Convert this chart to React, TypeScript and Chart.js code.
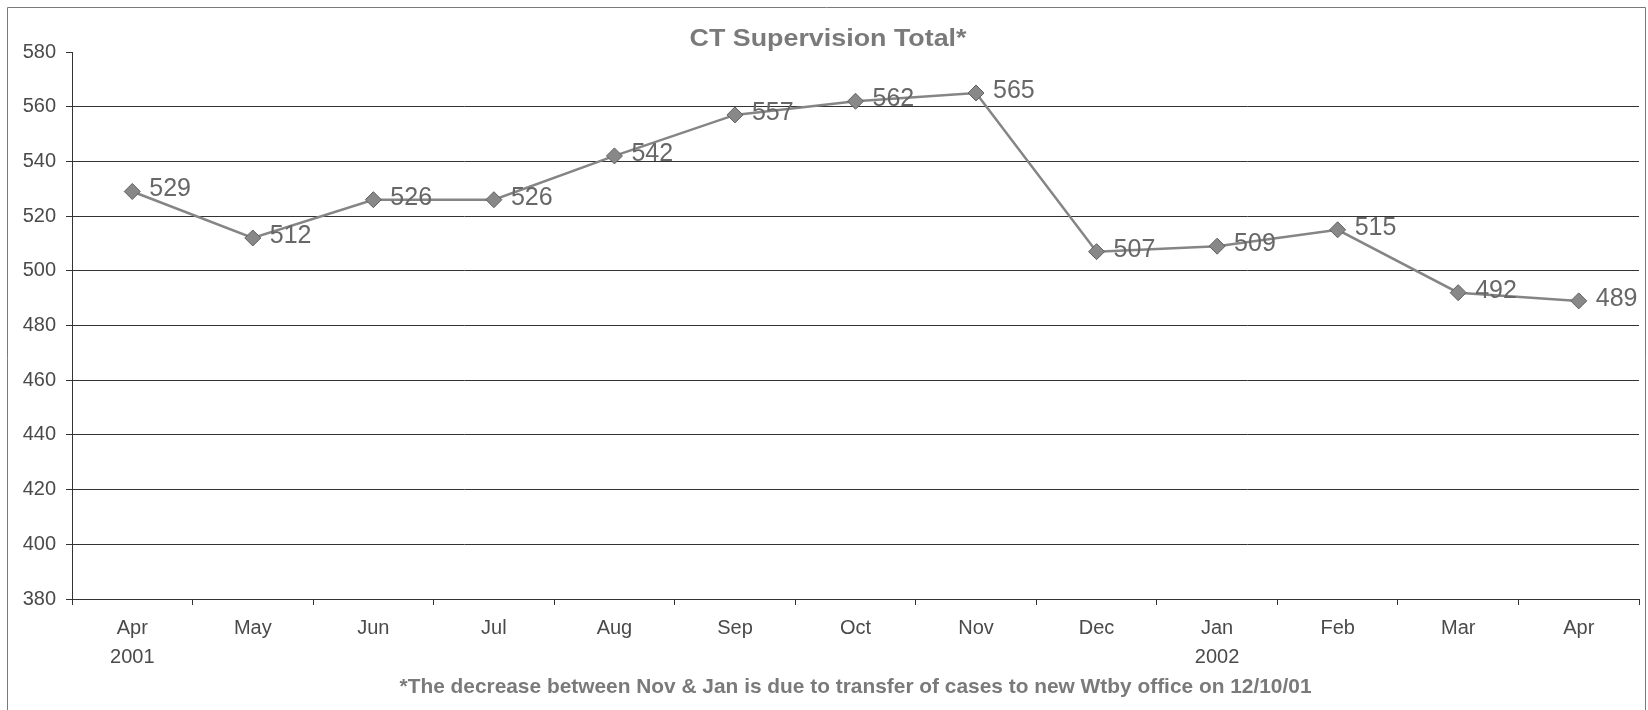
import React, { useEffect, useRef } from "react";
import { Chart, registerables } from "chart.js";

Chart.register(...registerables);

const months: (string | string[])[] = [
  ["Apr", "2001"], "May", "Jun", "Jul", "Aug", "Sep", "Oct", "Nov", "Dec",
  ["Jan", "2002"], "Feb", "Mar", "Apr",
];
const totals: number[] = [529, 512, 526, 526, 542, 557, 562, 565, 507, 509, 515, 492, 489];
const yMin = 380;
const yMax = 580;
const yStep = 20;
const titleText = "CT Supervision Total*";
const footnoteText =
  "*The decrease between Nov & Jan is due to transfer of cases to new Wtby office on 12/10/01";

const FONT = "'Liberation Sans', Arial, sans-serif";

function drawFitted(ctx: CanvasRenderingContext2D, text: string, cx: number, cy: number, font: string, color: string, targetW: number) {
  ctx.save();
  ctx.font = font;
  ctx.fillStyle = color;
  ctx.textAlign = "center";
  ctx.textBaseline = "middle";
  const w = ctx.measureText(text).width;
  const sx = targetW / w;
  ctx.translate(cx, cy);
  ctx.scale(sx, 1);
  ctx.fillText(text, 0, 0);
  ctx.restore();
}

const decorPlugin = {
  id: "decor",
  afterDraw(chart: any) {
    const ctx: CanvasRenderingContext2D = chart.ctx;
    const area = chart.chartArea;
    ctx.save();
    ctx.strokeStyle = "#7a7a7a";
    ctx.lineWidth = 1;
    ctx.beginPath();
    ctx.moveTo(7.5, chart.height);
    ctx.lineTo(7.5, 7.5);
    ctx.lineTo(chart.width - 2.5, 7.5);
    ctx.lineTo(chart.width - 2.5, chart.height);
    ctx.stroke();
    ctx.restore();
    drawFitted(ctx, titleText, 828, 40, `bold 23px ${FONT}`, "#7a7a7a", 277);
    drawFitted(ctx, footnoteText, (area.left + area.right) / 2, 687, `bold 21px ${FONT}`, "#7a7a7a", 912);
  },
};

const labelPlugin = {
  id: "valueLabels",
  afterDatasetsDraw(chart: any) {
    const ctx: CanvasRenderingContext2D = chart.ctx;
    const meta = chart.getDatasetMeta(0);
    const data = chart.data.datasets[0].data;
    ctx.save();
    ctx.font = `25px ${FONT}`;
    ctx.fillStyle = "#676767";
    ctx.textAlign = "left";
    ctx.textBaseline = "middle";
    meta.data.forEach((el: any, i: number) => {
      ctx.fillText(String(data[i]), el.x + 17, el.y - 2);
    });
    ctx.restore();
  },
};

export default function App() {
  const ref = useRef<HTMLCanvasElement | null>(null);
  useEffect(() => {
    if (!ref.current) return;
    const chart = new Chart(ref.current, {
      type: "line",
      data: {
        labels: months,
        datasets: [
          {
            data: totals,
            borderColor: "#858585",
            borderWidth: 2.5,
            tension: 0,
            pointStyle: "rectRot",
            pointRadius: 8,
            pointBackgroundColor: "#888888",
            pointBorderColor: "#606060",
            pointBorderWidth: 1,
          },
        ],
      },
      options: {
        responsive: false,
        animation: false,
        events: [],
        layout: { padding: { left: 0, right: 7, top: 52, bottom: 0 } },
        plugins: {
          legend: { display: false },
          tooltip: { enabled: false },
          title: { display: false },
        },
        scales: {
          x: {
            offset: true,
            afterFit: (s: any) => { s.height = 111; },
            grid: {
              offset: true,
              drawOnChartArea: false,
              drawTicks: true,
              tickLength: 6,
              tickColor: "#333",
              color: "#333",
            },
            border: { display: true, color: "#333", width: 1 },
            ticks: {
              autoSkip: false,
              maxRotation: 0,
              padding: 8.5,
              color: "#4a4a4a",
              font: { family: FONT, size: 20, lineHeight: 29 / 20 },
            },
          },
          y: {
            min: yMin,
            max: yMax,
            afterFit: (s: any) => { s.width = 72; },
            grid: {
              color: (c: any) => (c.tick && c.tick.value === yMax ? "rgba(0,0,0,0)" : "#333"),
              tickColor: "#333",
              tickLength: 6,
              lineWidth: 1,
            },
            border: { display: true, color: "#333", width: 1 },
            ticks: {
              stepSize: yStep,
              padding: 10,
              color: "#4a4a4a",
              font: { family: FONT, size: 20 },
            },
          },
        },
      },
      plugins: [labelPlugin, decorPlugin],
    });
    return () => chart.destroy();
  }, []);
  return (
    <div style={{ position: "absolute", left: 0, top: 0, width: 1648, height: 710, background: "#fff" }}>
      <canvas ref={ref} width={1648} height={710} style={{ display: "block" }} />
    </div>
  );
}
